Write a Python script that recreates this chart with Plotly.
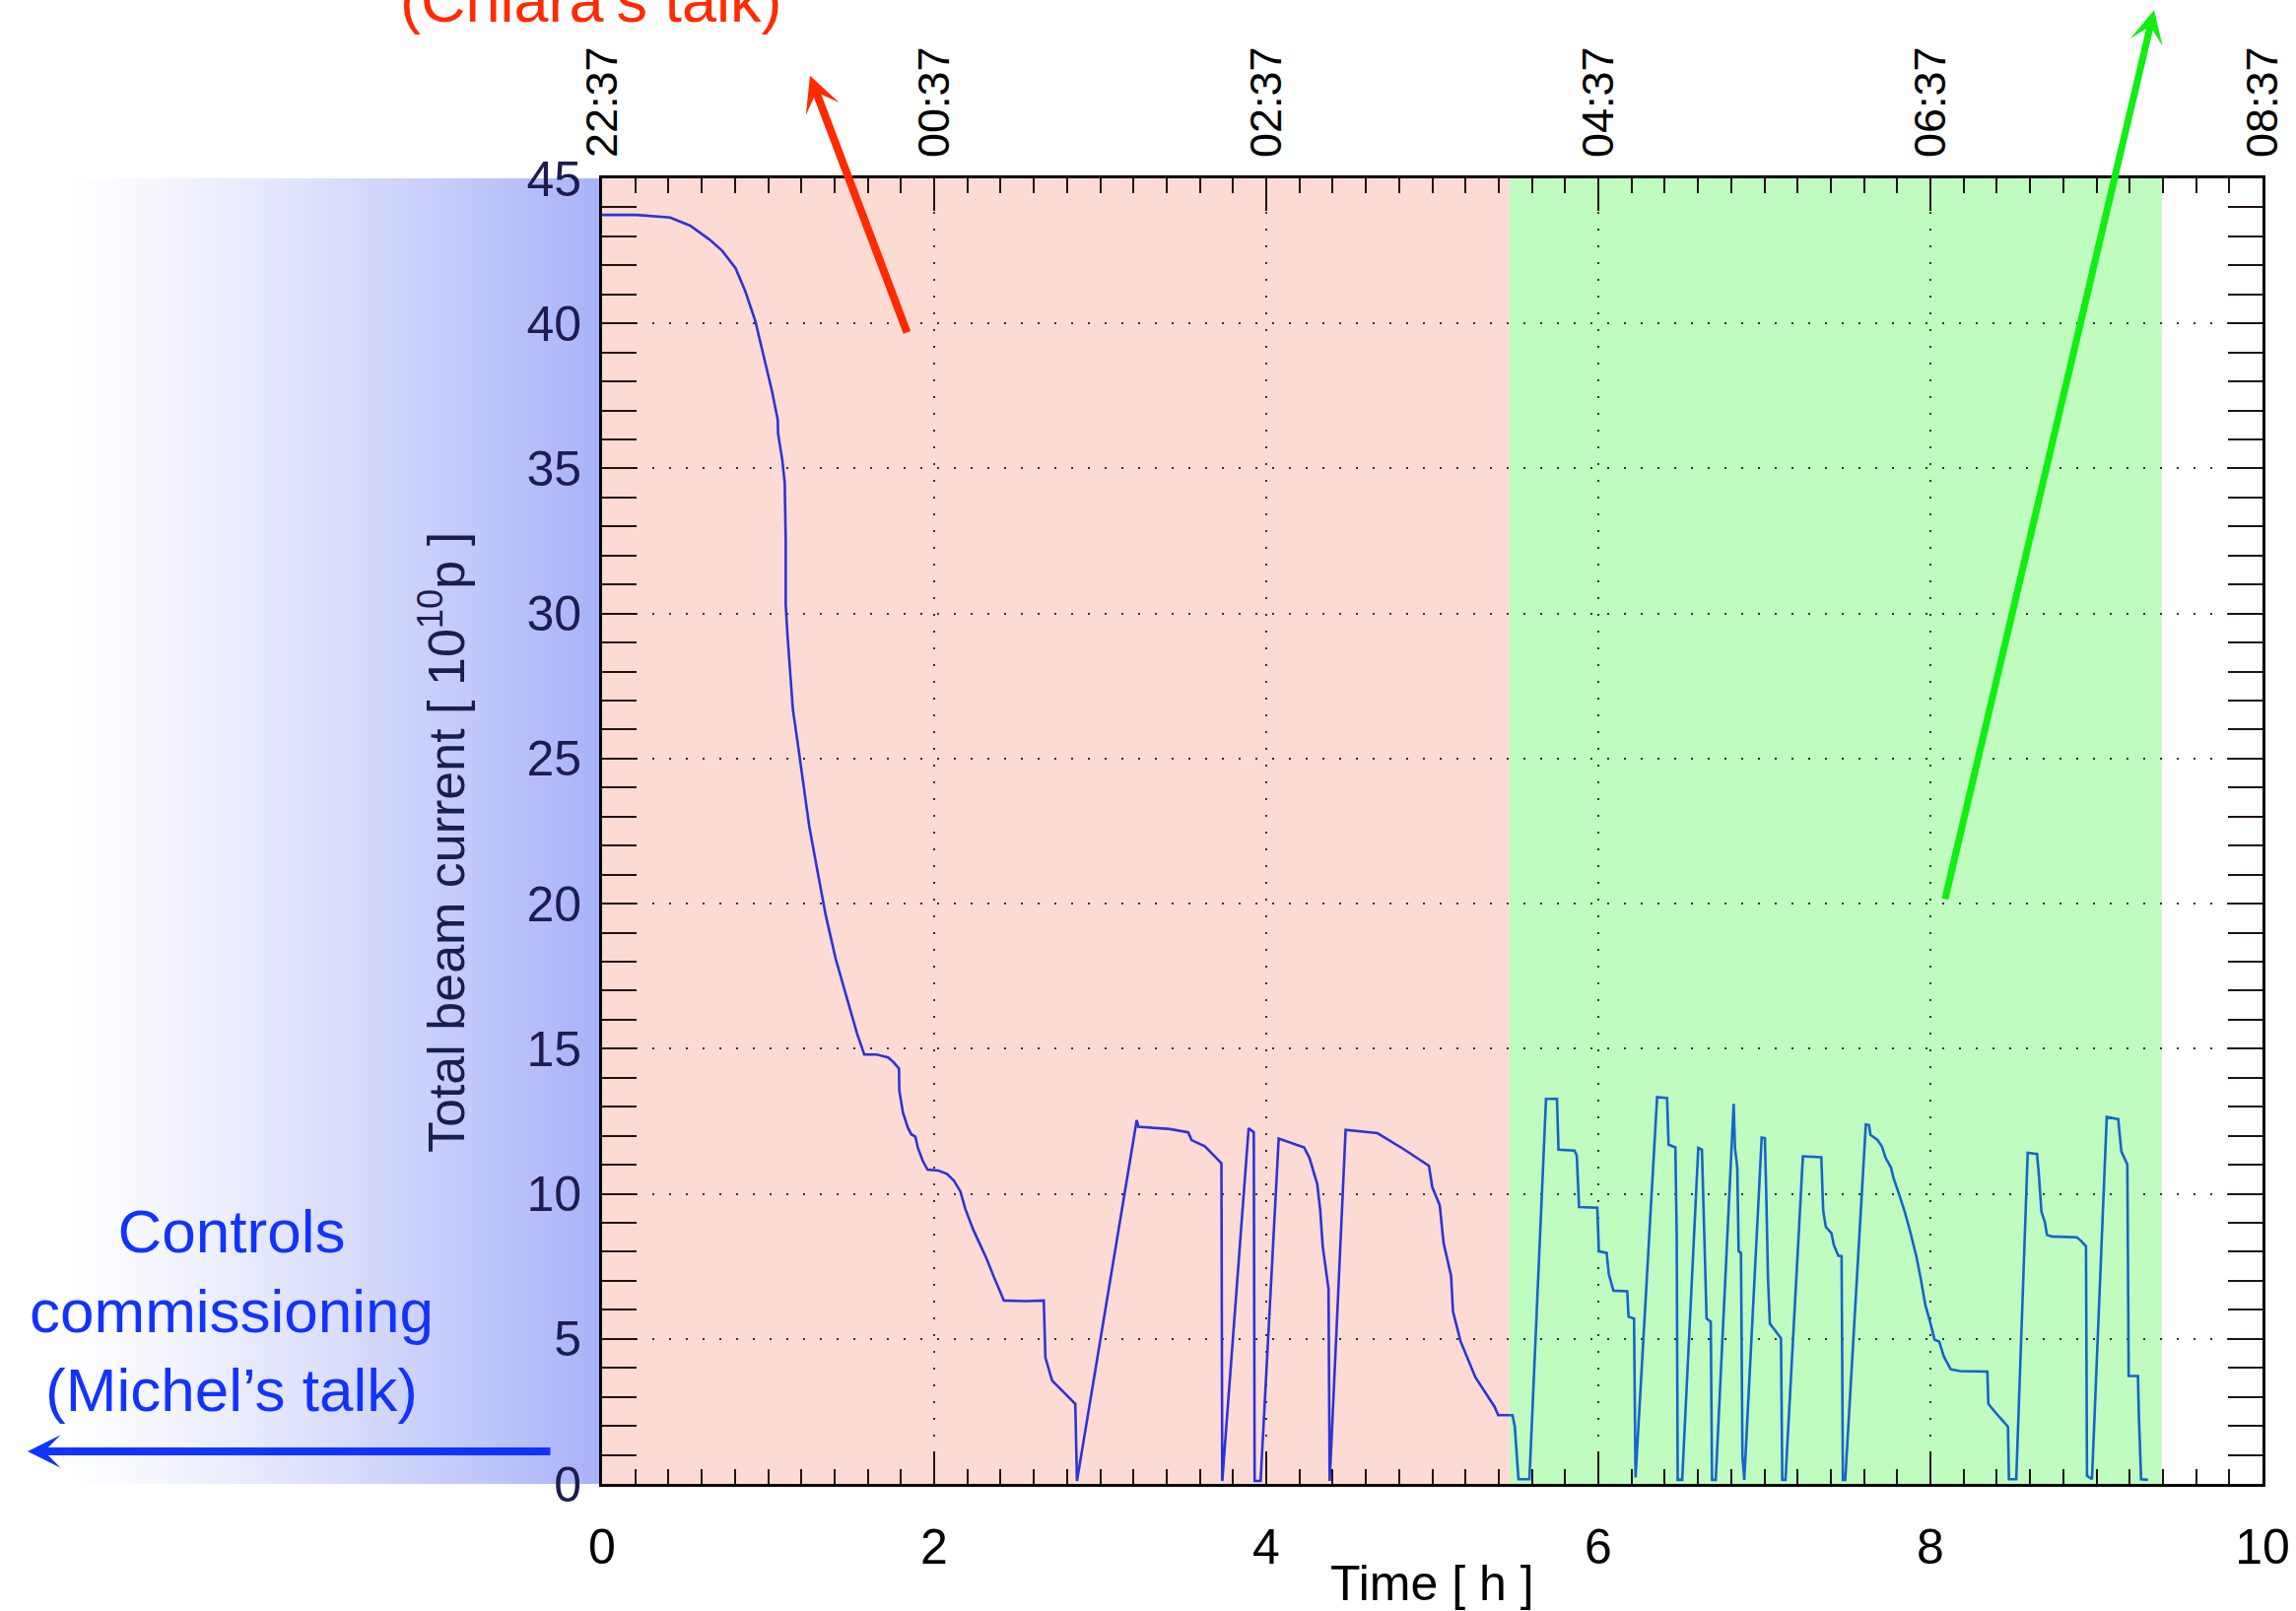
import plotly.graph_objects as go

# ---------------- data ----------------
time_h = [0.00, 0.21, 0.41, 0.53, 0.645, 0.724, 0.804, 0.863, 0.923, 0.982, 1.022, 1.058, 1.06, 1.085, 1.10,
          1.106, 1.106, 1.116, 1.13, 1.149, 1.179, 1.209, 1.248, 1.298, 1.347, 1.407, 1.476, 1.535, 1.579, 1.654,
          1.723, 1.753, 1.788, 1.79, 1.812, 1.842, 1.862, 1.887, 1.901, 1.931, 1.96, 2.026, 2.079, 2.119, 2.158,
          2.188, 2.237, 2.309, 2.365, 2.42, 2.55, 2.66, 2.67, 2.71, 2.85, 2.86, 3.22, 3.23, 3.42, 3.53, 3.55, 3.63,
          3.73, 3.735, 3.894, 3.925, 3.93, 3.966, 4.075, 4.228, 4.26, 4.307, 4.325, 4.34, 4.375, 4.382, 4.478,
          4.67, 4.83, 4.98, 5.0, 5.045, 5.068, 5.113, 5.125, 5.17, 5.26, 5.375, 5.397, 5.465,
          5.483, 5.497, 5.519, 5.585, 5.685, 5.751, 5.76, 5.856, 5.87, 5.884, 5.994, 6.003, 6.05, 6.063, 6.091,
          6.174, 6.182, 6.215, 6.224, 6.354, 6.414, 6.423, 6.464, 6.472, 6.478, 6.505, 6.602, 6.624, 6.635,
          6.644, 6.652, 6.677, 6.685, 6.707, 6.815, 6.823, 6.837, 6.845, 6.859, 6.868, 6.879, 6.984, 7.003,
          7.011, 7.022, 7.033, 7.072, 7.10, 7.108, 7.127, 7.232, 7.343, 7.354, 7.37, 7.404, 7.418, 7.445, 7.465,
          7.473, 7.487, 7.611, 7.63, 7.639, 7.68, 7.708, 7.73, 7.763, 7.777, 7.804, 7.846, 7.873, 7.915, 7.942,
          7.97, 7.998, 8.025, 8.053, 8.08, 8.122, 8.177, 8.343, 8.349, 8.398, 8.467, 8.473, 8.517, 8.586, 8.642,
          8.653, 8.669, 8.689, 8.702, 8.73, 8.882, 8.91, 8.937, 8.943, 8.973, 9.062, 9.131, 9.15, 9.186, 9.194,
          9.25, 9.255, 9.263, 9.269, 9.31]
current = [43.74, 43.74, 43.65, 43.37, 42.9, 42.5, 41.9, 41.1, 40.08, 38.72, 37.7, 36.68, 36.2, 35.3, 34.5,
           32.5, 30.3, 29.3, 28.1, 26.7, 25.5, 24.2, 22.65, 21.1, 19.6, 18.1, 16.74, 15.53, 14.8, 14.8,
           14.7, 14.55, 14.32, 13.56, 12.8, 12.27, 12.05, 11.97, 11.6, 11.14, 10.83, 10.8, 10.68, 10.45, 10.08,
           9.47, 8.74, 7.85, 7.06, 6.32, 6.30, 6.32, 4.35, 3.56, 2.76, 0.10, 12.54, 12.31, 12.23, 12.12, 11.85, 11.64,
           11.05, 0.10, 12.26, 12.12, 0.10, 0.10, 11.9, 11.6, 11.24, 10.34, 9.44, 8.19, 6.72, 0.10, 12.2,
           12.09, 11.53, 10.96, 10.23, 9.6, 8.3, 7.18, 5.93, 4.92, 3.67, 2.66, 2.37, 2.37,
           2.37, 1.97, 0.16, 0.16, 13.27, 13.27, 11.52, 11.49, 11.33, 9.54, 9.52, 8.02, 7.96, 7.23, 6.66,
           6.64, 5.76, 5.70, 0.22, 13.33, 13.3, 11.69, 11.6, 8.53, 0.14, 0.14, 11.58, 11.52, 9.43,
           7.23, 5.7, 5.59, 0.14, 0.14, 13.1, 11.58, 10.9, 8.02, 7.96, 0.95, 0.14, 11.94, 11.92,
           10.1, 7.06, 5.53, 5.25, 5.02, 0.14, 0.14, 11.29, 11.26, 9.43, 8.86, 8.64, 8.24, 7.87, 7.85,
           0.14, 0.14, 12.39, 12.37, 12.03, 11.86, 11.63, 11.24, 10.9, 10.56, 10.11, 9.37, 8.81, 7.85, 7.06,
           6.15, 5.59, 4.97, 4.91, 4.4, 3.95, 3.89, 3.87, 2.76, 2.42, 1.97, 0.16, 0.16, 11.41, 11.37,
           10.67, 9.37, 9.03, 8.58, 8.53, 8.5, 8.36, 8.19, 0.28, 0.16, 12.65, 12.57, 11.46, 11.01, 3.72,
           3.72, 2.42, 1.18, 0.16, 0.14]

phase_bounds = [0.0, 5.465, 9.393]          # start, switch to second phase, end (hours)
x_ticks = [0, 2, 4, 6, 8, 10]
clock_labels = ["22:37", "00:37", "02:37", "04:37", "06:37", "08:37"]
y_ticks = [0, 5, 10, 15, 20, 25, 30, 35, 40, 45]

# ---------------- styles ----------------
FONT = "Liberation Sans, Arial, Helvetica, sans-serif"
NAVY = "#1c1c50"
PINK = "#fddbd5"
GREEN = "#c0fbc0"
LINE1 = "#2b33d8"
LINE2 = "#1565cc"
W, H = 2330, 1635
L, R, T, B = 611, 34, 181, 129
PW, PH = W - L - R, H - T - B


def px_to_paper_x(px):
    return (px - L) / PW


def px_to_paper_y(py):
    return (H - B - py) / PH


split = phase_bounds[1]
t1 = [t for t in time_h if t <= split]
c1 = [c for t, c in zip(time_h, current) if t <= split]
t2 = [t for t in time_h if t >= split]
c2 = [c for t, c in zip(time_h, current) if t >= split]

fig = go.Figure()
fig.add_trace(go.Scatter(x=t1, y=c1, mode="lines", line=dict(color=LINE1, width=2.6),
                         showlegend=False, hoverinfo="skip"))
fig.add_trace(go.Scatter(x=t2, y=c2, mode="lines", line=dict(color=LINE2, width=2.6),
                         showlegend=False, hoverinfo="skip"))
# carrier for the top clock axis
fig.add_trace(go.Scatter(x=[x_ticks[0], x_ticks[-1]], y=[0, 0], xaxis="x2", mode="lines",
                         line=dict(width=0), opacity=0, showlegend=False, hoverinfo="skip"))

shapes = []
# phase backgrounds
shapes.append(dict(type="rect", xref="x", yref="paper", x0=phase_bounds[0], x1=phase_bounds[1], y0=0, y1=1,
                   fillcolor=PINK, line=dict(width=0), layer="below"))
shapes.append(dict(type="rect", xref="x", yref="paper", x0=phase_bounds[1], x1=phase_bounds[2], y0=0, y1=1,
                   fillcolor=GREEN, line=dict(width=0), layer="below"))
# horizontal gradient band to the left of the plot (white -> light blue)
g_left, g_right = 60, L
n = 110
end_rgb = (168, 178, 248)
for i in range(n):
    a = g_left + (g_right - g_left) * i / n
    b = g_left + (g_right - g_left) * (i + 1) / n + 0.6
    f = ((i + 0.5) / n) ** 1.25
    col = tuple(round(255 + (e - 255) * f) for e in end_rgb)
    shapes.append(dict(type="rect", xref="paper", yref="paper",
                       x0=px_to_paper_x(a), x1=min(px_to_paper_x(b), 0), y0=0, y1=1,
                       fillcolor="rgb(%d,%d,%d)" % col, line=dict(width=0), layer="below"))

annotations = [
    # axis titles
    dict(text="Time [ h ]", xref="paper", yref="paper", x=0.5, y=px_to_paper_y(1607),
         showarrow=False, font=dict(family=FONT, size=50, color="black"), xanchor="center", yanchor="middle"),
    dict(text="Total beam current [ 10<sup>10</sup>p ]", xref="paper", yref="paper",
         x=px_to_paper_x(449), y=px_to_paper_y(855), textangle=-90, showarrow=False,
         font=dict(family=FONT, size=52, color=NAVY), xanchor="center", yanchor="middle"),
    # red annotation
    dict(text="(Chiara\u2019s talk)", xref="paper", yref="paper", x=px_to_paper_x(599), y=px_to_paper_y(0),
         showarrow=False, font=dict(family=FONT, size=63, color="#ff2a00"), xanchor="center", yanchor="middle"),
    dict(text="", x=1.252, y=48.54, xref="x", yref="y", ax=1.840, ay=39.64, axref="x", ayref="y",
         showarrow=True, arrowhead=3, arrowsize=0.75, arrowwidth=8, arrowcolor="#ff2a00"),
    # green arrow
    dict(text="", x=9.347, y=50.8, xref="x", yref="y", ax=8.086, ay=20.11, axref="x", ayref="y",
         showarrow=True, arrowhead=3, arrowsize=0.8, arrowwidth=7, arrowcolor="#11ee11"),
    # blue annotation
    dict(text="Controls<br>commissioning<br>(Michel\u2019s talk)", xref="paper", yref="paper",
         x=px_to_paper_x(235), y=px_to_paper_y(1330), showarrow=False,
         font=dict(family=FONT, size=62, color="#1133ff"), xanchor="center", yanchor="middle", align="center"),
    dict(text="", xref="paper", yref="paper", x=px_to_paper_x(28), y=px_to_paper_y(1473),
         ax=560 - 28, ay=0, axref="pixel", ayref="pixel",
         showarrow=True, arrowhead=3, arrowsize=0.7, arrowwidth=8, arrowcolor="#1133ff"),
]

fig.update_layout(
    width=W, height=H, margin=dict(l=L, r=R, t=T, b=B, autoexpand=False),
    paper_bgcolor="white", plot_bgcolor="white",
    font=dict(family=FONT, color="black"),
    shapes=shapes, annotations=annotations, showlegend=False,
    xaxis=dict(range=[0, 10], tickvals=x_ticks, ticks="inside", ticklen=33, tickwidth=2, tickcolor="#221111",
               minor=dict(dtick=0.2, ticks="inside", ticklen=15, tickwidth=2, tickcolor="#221111", showgrid=False),
               showline=True, linecolor="black", linewidth=3, mirror="allticks",
               showgrid=True, gridcolor="#333333", gridwidth=2, griddash="2px,15px", zeroline=False,
               tickfont=dict(family=FONT, size=50, color="black"), ticklabelstandoff=18),
    xaxis2=dict(range=[0, 10], overlaying="x", side="top", tickvals=x_ticks, ticktext=clock_labels,
                tickangle=-90, ticks="", showgrid=False, zeroline=False, showline=False,
                tickfont=dict(family=FONT, size=45, color="black"), ticklabelstandoff=20),
    yaxis=dict(range=[0, 45], tickvals=y_ticks, ticks="inside", ticklen=35, tickwidth=2, tickcolor="#221111",
               minor=dict(dtick=1, ticks="inside", ticklen=17, tickwidth=2, tickcolor="#221111", showgrid=False),
               showline=True, linecolor="black", linewidth=3, mirror="allticks",
               showgrid=True, gridcolor="#333333", gridwidth=2, griddash="2px,15px", zeroline=False,
               tickfont=dict(family=FONT, size=50, color=NAVY), ticklabelstandoff=8),
)

fig.write_html("out.html")
